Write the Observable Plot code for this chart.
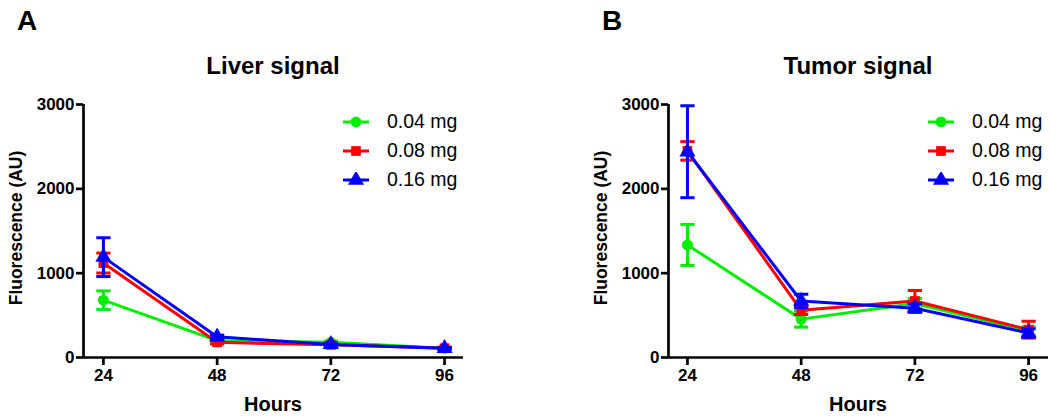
<!DOCTYPE html>
<html>
<head>
<meta charset="utf-8">
<script src="https://cdn.jsdelivr.net/npm/d3@7"></script>
<script src="https://cdn.jsdelivr.net/npm/@observablehq/plot@0.6"></script>
<style>
  html, body { margin: 0; padding: 0; background: #fff; }
  #wrap { position: relative; width: 1050px; height: 419px; font-family: "Liberation Sans", Arial, sans-serif; overflow: hidden; }
  .panel { position: absolute; top: 0; }
  .letter { position: absolute; font-weight: bold; font-size: 28px; line-height: 1; }
  .title { position: absolute; font-weight: bold; font-size: 24px; line-height: 1; transform: translateX(-50%); white-space: nowrap; }
  .xlab { position: absolute; font-weight: bold; font-size: 20px; line-height: 1; transform: translateX(-50%); }
  .ylab { position: absolute; font-weight: bold; font-size: 17.5px; line-height: 1; transform: translate(-50%, -50%) rotate(-90deg); white-space: nowrap; }
  .legend { position: absolute; font-size: 19.5px; }
  .legend .row { display: flex; align-items: center; height: 29px; }
  .legend svg { margin-right: 17px; }
</style>
</head>
<body>
<div id="wrap"></div>
<script>
// ---- data ----
const hours = [24, 48, 72, 96];
const doses = ["0.04 mg", "0.08 mg", "0.16 mg"];
const colors = ["#00ee00", "#ff0000", "#0000ff"];
const symbols = ["circle", "square", "triangle"];

const liverMean004 = [680, 200, 180, 110];
const liverErr004  = [110, 20, 15, 10];
const liverMean008 = [1120, 180, 150, 110];
const liverErr008  = [118, 20, 15, 10];
const liverMean016 = [1190, 245, 155, 110];
const liverErr016  = [230, 20, 15, 10];

const tumorMean004 = [1335, 455, 640, 315];
const tumorErr004  = [243, 95, 60, 50];
const tumorMean008 = [2450, 560, 670, 330];
const tumorErr008  = [110, 50, 125, 100];
const tumorMean016 = [2440, 670, 585, 290];
const tumorErr016  = [545, 80, 50, 50];

const yTicks = [0, 1000, 2000, 3000];
const panelLetters = ["A", "B"];
const panelTitles = ["Liver signal", "Tumor signal"];
const xTitle = "Hours";
const yTitle = "Fluorescence (AU)";

function rows(means, errs) {
  const out = [];
  means.forEach((m, di) => {
    hours.forEach((h, hi) => {
      out.push({dose: doses[di], di, hour: h, mean: m[hi], err: errs[di][hi]});
    });
  });
  return out;
}
const liverData = rows([liverMean004, liverMean008, liverMean016], [liverErr004, liverErr008, liverErr016]);
const tumorData = rows([tumorMean004, tumorMean008, tumorMean016], [tumorErr004, tumorErr008, tumorErr016]);

const wrap = document.getElementById("wrap");

function makePanel(data, opts) {
  const xd = opts.xDomain;
  const marks = [
    Plot.ruleX([xd[0]], {y1: 0, y2: 3000, stroke: "#000", strokeWidth: 2.7}),
    Plot.ruleY([0], {x1: xd[0], x2: xd[1], stroke: "#000", strokeWidth: 2.7}),
    Plot.axisY({ticks: yTicks, tickSize: 7, tickPadding: 2, strokeWidth: 2.7, tickFormat: "d", label: null}),
    Plot.axisX({ticks: hours, tickSize: 8, tickPadding: 3, strokeWidth: 2.7, tickFormat: "d", label: null})
  ];
  for (let di = 0; di < doses.length; di++) {
    const d = data.filter(r => r.di === di);
    const c = colors[di];
    marks.push(
      Plot.line(d, {x: "hour", y: "mean", stroke: c, strokeWidth: 3}),
      Plot.ruleX(d, {x: "hour", y1: r => r.mean - r.err, y2: r => r.mean + r.err, stroke: c, strokeWidth: 3}),
      Plot.link(d, {x1: r => r.hour - 1.5, x2: r => r.hour + 1.5, y1: r => r.mean + r.err, y2: r => r.mean + r.err, stroke: c, strokeWidth: 3}),
      Plot.link(d, {x1: r => r.hour - 1.5, x2: r => r.hour + 1.5, y1: r => r.mean - r.err, y2: r => r.mean - r.err, stroke: c, strokeWidth: 3}),
      Plot.dot(d, {x: "hour", y: "mean", fill: c, stroke: "none", symbol: () => symbols[di], r: di === 2 ? 6 : 5.5})
    );
  }
  const p = Plot.plot({
    width: 525,
    height: 419,
    marginLeft: opts.ml,
    marginRight: opts.mr,
    marginTop: 104,
    marginBottom: 62,
    x: {type: "linear", domain: xd},
    y: {type: "linear", domain: [0, 3000]},
    style: {fontFamily: "'Liberation Sans', Arial, sans-serif", fontSize: "17px", fontWeight: "bold", color: "#000", background: "transparent", overflow: "visible"},
    marks
  });
  p.classList.add("panel");
  p.style.left = opts.left + "px";
  wrap.appendChild(p);
}

makePanel(liverData, {left: 0, ml: 83, mr: 62, xDomain: [19.8, 100]});
makePanel(tumorData, {left: 525, ml: 143, mr: 2, xDomain: [20, 100.2]});

function addDiv(cls, text, css) {
  const el = document.createElement("div");
  el.className = cls;
  el.textContent = text;
  Object.assign(el.style, css);
  wrap.appendChild(el);
  return el;
}

const panelInfo = [
  {letterX: 17, axisCenter: 273, ylabX: 17, legendX: 342},
  {letterX: 602, axisCenter: 858, ylabX: 602, legendX: 927}
];
panelInfo.forEach((pi, i) => {
  addDiv("letter", panelLetters[i], {left: pi.letterX + "px", top: "7px"});
  addDiv("title", panelTitles[i], {left: pi.axisCenter + "px", top: "54px"});
  addDiv("xlab", xTitle, {left: pi.axisCenter + "px", top: "394px"});
  addDiv("ylab", yTitle, {left: pi.ylabX + "px", top: "228px"});
  const lg = document.createElement("div");
  lg.className = "legend";
  lg.style.left = pi.legendX + "px";
  lg.style.top = "107px";
  doses.forEach((d, di) => {
    const row = document.createElement("div");
    row.className = "row";
    const sym = d3.symbol(di === 0 ? d3.symbolCircle : di === 1 ? d3.symbolSquare : d3.symbolTriangle, Math.PI * (di === 2 ? 36 : 30))();
    row.innerHTML = `<svg width="28" height="16" viewBox="0 0 28 16"><line x1="1" x2="27" y1="8" y2="8" stroke="${colors[di]}" stroke-width="3"/><path transform="translate(14,8)" d="${sym}" fill="${colors[di]}"/></svg><span>${d}</span>`;
    lg.appendChild(row);
  });
  wrap.appendChild(lg);
});
</script>
</body>
</html>
